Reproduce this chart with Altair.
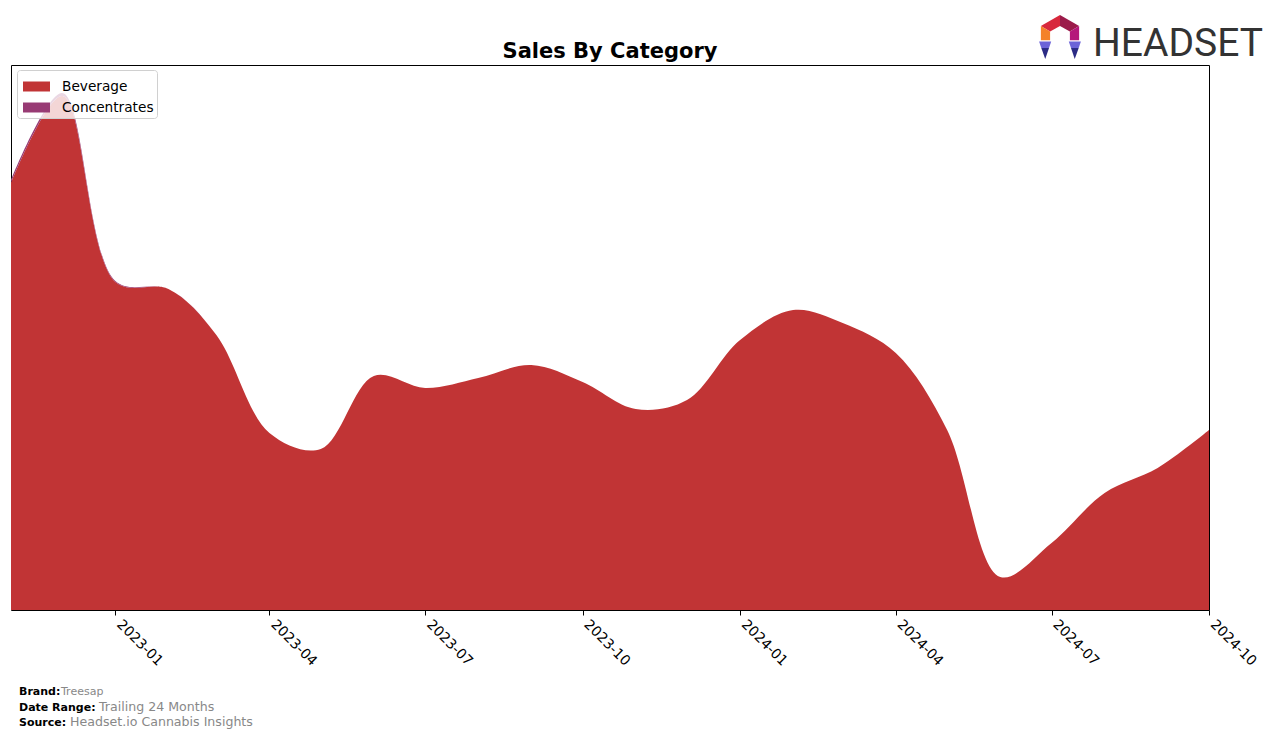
import altair as alt
import pandas as pd

# ---- data ----
months = [
    "2022-11-01", "2022-12-01", "2023-01-01", "2023-02-01", "2023-03-01", "2023-04-01",
    "2023-05-01", "2023-06-01", "2023-07-01", "2023-08-01", "2023-09-01", "2023-10-01",
    "2023-11-01", "2023-12-01", "2024-01-01", "2024-02-01", "2024-03-01", "2024-04-01",
    "2024-05-01", "2024-06-01", "2024-07-01", "2024-08-01", "2024-09-01", "2024-10-01",
]
beverage = [427, 514, 328, 321, 275, 177, 161, 234, 222, 232, 245, 228,
            201, 210, 270, 300, 287, 257, 180, 33, 67, 117, 142, 180]
concentrates = [3, 3, 1, 0, 0, 0, 0, 0, 0, 0, 0, 0,
                0, 0, 0, 0, 0, 0, 0, 0, 0, 0, 0, 0]
categories = ["Beverage", "Concentrates"]
cat_colors = ["#c13435", "#983b74"]
tick_dates = ["2023-01-01", "2023-04-01", "2023-07-01", "2023-10-01",
              "2024-01-01", "2024-04-01", "2024-07-01", "2024-10-01"]

title_text = "Sales By Category"
footer_labels = ["Brand:", "Date Range:", "Source:"]
footer_values = ["Treesap", "Trailing 24 Months", "Headset.io Cannabis Insights"]
logo_word = "HEADSET"

rows = []
for m, b, c in zip(months, beverage, concentrates):
    rows.append({"month": m + "T00:00:00", "category": "Beverage", "sales": b})
    rows.append({"month": m + "T00:00:00", "category": "Concentrates", "sales": c})
df = pd.DataFrame(rows)

W, H = 1198, 545

def dt(s):
    y, mo, d = s.split("-")
    return alt.DateTime(year=int(y), month=int(mo), date=int(d))

area = alt.Chart(df).mark_area(interpolate="catmull-rom", clip=True).encode(
    x=alt.X("month:T",
            scale=alt.Scale(domain=[dt(months[0]), dt(months[-1])], nice=False),
            axis=alt.Axis(values=[dt(t) for t in tick_dates], format="%Y-%m",
                          labelAngle=45, labelAlign="left", labelBaseline="top",
                          title=None, grid=False, domain=False, tickColor="black",
                          tickSize=5, labelPadding=2, labelOffset=8, labelFontSize=14,
                          labelColor="black", labelFont="DejaVu Sans")),
    y=alt.Y("sales:Q", stack="zero", scale=alt.Scale(domain=[0, H], nice=False),
            axis=None),
    color=alt.Color("category:N",
                    scale=alt.Scale(domain=categories, range=cat_colors),
                    legend=alt.Legend(title=None, orient="none", legendX=6, legendY=5,
                                      fillColor="rgba(255,255,255,0.8)",
                                      strokeColor="#d0d0d0",
                                      cornerRadius=3, padding=3, symbolOffset=3,
                                      labelFontSize=13.7, labelFont="DejaVu Sans",
                                      labelColor="black",
                                      symbolType="M-1,-0.37H1V0.37H-1Z",
                                      symbolSize=729, symbolStrokeWidth=0,
                                      symbolOpacity=1, rowPadding=0,
                                      labelOffset=12)),
    order=alt.Order("category:N", sort="ascending"),
)

title = alt.Chart(pd.DataFrame({"t": [title_text]})).mark_text(
    align="center", baseline="alphabetic", font="DejaVu Sans", fontWeight="bold",
    fontSize=21, color="black").encode(x=alt.value(599), y=alt.value(-7), text="t:N")

# footer
fl = pd.DataFrame({"t": footer_labels, "y": [630, 646, 661]})
fv = pd.DataFrame({"t": footer_values, "x": [50, 88, 59], "y": [630, 646, 661],
                   "s": [11, 12.6, 12.6]})
footer_lab = alt.Chart(fl).mark_text(align="left", baseline="alphabetic",
                                     font="DejaVu Sans", fontWeight="bold",
                                     fontSize=11, color="black").encode(
    x=alt.value(8), y=alt.Y("y:Q", scale=None), text="t:N")
footer_val = alt.Chart(fv).mark_text(align="left", baseline="alphabetic",
                                     font="DejaVu Sans", color="#888888").encode(
    x=alt.X("x:Q", scale=None), y=alt.Y("y:Q", scale=None), text="t:N",
    size=alt.Size("s:Q", scale=None, legend=None))

# logo
logo_text = alt.Chart(pd.DataFrame({"t": [logo_word]})).mark_text(
    align="left", baseline="alphabetic", font="Roboto",
    fontSize=39, color="#333333").encode(
    x=alt.value(1082), y=alt.value(-9), text="t:N")

seg_paths = [
    "M0,-1L-0.87,-0.5L-0.45,-0.25L0,-0.5Z",
    "M0,-1L0.87,-0.5L0.45,-0.25L0,-0.5Z",
    "M-0.87,-0.5L-0.87,0.15L-0.45,0.15L-0.45,-0.25Z",
    "M0.87,-0.5L0.87,0.15L0.45,0.15L0.45,-0.25Z",
    "M-0.95,0.2L-0.4,0.2L-0.5,0.5L-0.85,0.5Z",
    "M0.95,0.2L0.4,0.2L0.5,0.5L0.85,0.5Z",
    "M-0.85,0.5L-0.5,0.5L-0.67,1Z",
    "M0.85,0.5L0.5,0.5L0.67,1Z",
]
seg_colors = ["#d8283c", "#9b1b4a", "#f4822a", "#b5177a",
              "#6c63d8", "#6c63d8", "#2b2b85", "#2b2b85"]
logo_icon = alt.Chart(pd.DataFrame({"p": seg_paths, "c": seg_colors})).mark_point(
    filled=True, opacity=1, size=1936, strokeWidth=0).encode(
    x=alt.value(1049), y=alt.value(-28),
    shape=alt.Shape("p:N", scale=None, legend=None),
    fill=alt.Fill("c:N", scale=None, legend=None))

chart = alt.layer(area, title, footer_lab, footer_val, logo_text, logo_icon).properties(
    width=W, height=H,
    background="white",
    autosize=alt.AutoSizeParams(type="none"),
    padding={"left": 3, "top": 57, "right": 59, "bottom": 121},
).configure_view(stroke="black", strokeWidth=1)

chart.save("out.html", embed_options={"renderer": "svg", "actions": False})
